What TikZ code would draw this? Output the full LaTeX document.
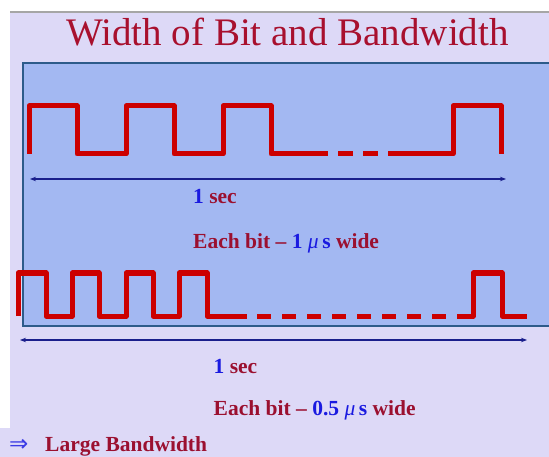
\documentclass[tikz,border=0pt]{standalone}
\usepackage{fontspec}
\setmainfont{Liberation Serif}
\newfontfamily\djv{DejaVu Sans}
\usetikzlibrary{arrows.meta}
\definecolor{lav}{HTML}{DDD9F7}
\definecolor{panelfill}{HTML}{A3B8F2}
\definecolor{panelline}{HTML}{2D5B8A}
\definecolor{sigred}{HTML}{CC0000}
\definecolor{titlered}{HTML}{A8102E}
\definecolor{txtred}{HTML}{9B1030}
\definecolor{txtblue}{HTML}{1A1AE0}
\definecolor{arrnavy}{HTML}{1A1F8C}
\tikzset{
  sig/.style={draw=sigred, line width=5pt, line join=round, line cap=butt},
  span/.style={draw=arrnavy, line width=1.4pt, {Stealth[length=6pt,width=4.5pt]}-{Stealth[length=6pt,width=4.5pt]}},
  lbl/.style={anchor=base west, inner sep=0pt, text=txtred, font=\fontsize{21.5}{24}\selectfont\bfseries},
}
\newcommand{\bl}[1]{\textcolor{txtblue}{#1}}
\begin{document}
\begin{tikzpicture}[x=1pt,y=-1pt]
\useasboundingbox (0,0) rectangle (549,457);
% background
\fill[white] (0,0) rectangle (549,457);
\fill[lav] (0,12) rectangle (549,457);
\fill[white] (0,12) rectangle (10,428);
\draw[gray!70, line width=1.2pt] (10,12) -- (549,12);
% panel
\coordinate (pTL) at (23,63);
\coordinate (pBR) at (553,326);
\filldraw[fill=panelfill, draw=panelline, line width=1.5pt] (pTL) rectangle (pBR);
% title
\node (title) [anchor=base, inner sep=0pt, text=titlered, font=\fontsize{39}{42}\selectfont] at (287.5,46) {Width of Bit and Bandwidth};
% signal 1
\path[sig] (29,154) -- (29,106) -- (77,106) -- (77,154) -- (126,154) -- (126,106) -- (174,106) -- (174,154)
  -- (223,154) -- (223,106) -- (271,106) -- (271,154) -- (328,154);
\path[sig] (338,154) -- (353,154);
\path[sig] (363,154) -- (378,154);
\path[sig] (388,154) -- (453,154) -- (453,106) -- (501,106) -- (501,154);
% arrow 1
\coordinate (a1l) at (30,179);
\coordinate (a1r) at (506,179);
\draw[span] (a1l) -- (a1r);
\node (sec1) [lbl] at (193,204) {\bl{1} sec};
\node (bit1) [lbl] at (193,248) {Each bit -- \bl{1 \textmd{\itshape μ}\,s} wide};
% signal 2
\path[sig] (18,316) -- (18,273) -- (46,273) -- (46,316) -- (72,316) -- (72,273) -- (99,273) -- (99,316)
  -- (126,316) -- (126,273) -- (153,273) -- (153,316) -- (179,316) -- (179,273) -- (207,273) -- (207,316) -- (247,316);
\foreach \k in {0,...,7} {
  \path[sig] ({257+25*\k},316) -- ({271+25*\k},316);
}
\path[sig] (457,316) -- (473,316) -- (473,273) -- (502,273) -- (502,316) -- (527,316);
% arrow 2
\coordinate (a2l) at (20,340);
\coordinate (a2r) at (527,340);
\draw[span] (a2l) -- (a2r);
\node (sec2) [lbl] at (213.5,373) {\bl{1} sec};
\node (bit2) [lbl] at (213.5,415) {Each bit -- \bl{0.5 \textmd{\itshape μ}\,s} wide};
% conclusion
\node (impl) [anchor=base west, inner sep=0pt, text=txtblue!85!white, font=\djv\fontsize{23}{26}\selectfont] at (9,451) {⇒};
\node (large) [lbl] at (45,451) {Large Bandwidth};
\end{tikzpicture}
\end{document}
